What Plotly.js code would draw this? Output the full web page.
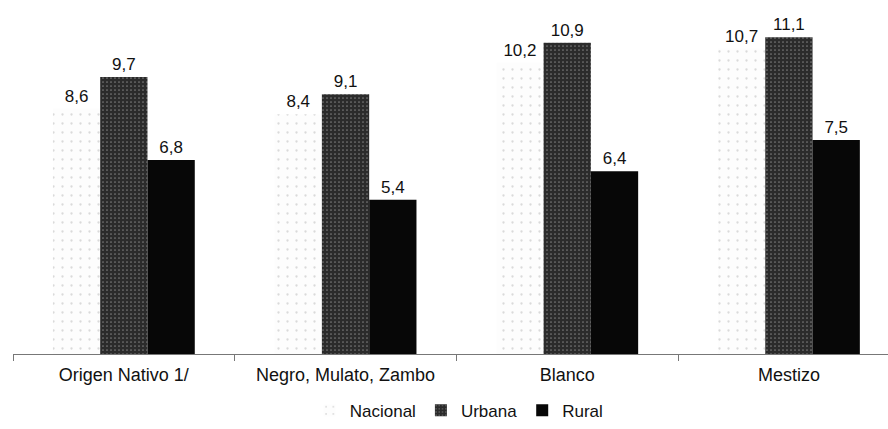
<!DOCTYPE html>
<html><head><meta charset="utf-8">
<script src="https://cdn.plot.ly/plotly-3.0.1.min.js"></script>
<style>html,body{margin:0;padding:0;background:#fff}#chart{width:888px;height:429px}</style>
</head><body><div id="chart"></div>
<script>
const categories = ["Origen Nativo 1/", "Negro, Mulato, Zambo", "Blanco", "Mestizo"];
const seriesNames = ["Nacional", "Urbana", "Rural"];
const nacional = [8.6, 8.4, 10.2, 10.7];
const urbana = [9.7, 9.1, 10.9, 11.1];
const rural = [6.8, 5.4, 6.4, 7.5];

const FAM = "Liberation Sans, Arial, sans-serif";
const labelFont = {family: FAM, size: 17, color: "#111"};
function trace(name, y, color, pattern) {
  return {
    type: "bar", name: name, x: categories, y: y,
    marker: {color: color, line: {width: 0}, pattern: pattern},
    texttemplate: "%{y:.1f}", textposition: "outside",
    textfont: labelFont, cliponaxis: false, hoverinfo: "skip"
  };
}
const data = [
  trace(seriesNames[0], nacional, "#fdfdfd", {shape: ".", fgcolor: "#dadada", bgcolor: "#fdfdfd", size: 9, solidity: 0.05}),
  trace(seriesNames[1], urbana, "#2b2b2b", {shape: ".", fgcolor: "#7a7a7a", bgcolor: "#2b2b2b", size: 4, solidity: 0.15}),
  trace(seriesNames[2], rural, "#070707")
];
const layout = {
  width: 888, height: 429,
  margin: {l: 13, r: 0, t: 20, b: 71},
  paper_bgcolor: "#fff", plot_bgcolor: "#fff",
  separators: ", ",
  barmode: "group", bargap: 0.36, bargroupgap: 0,
  font: {family: FAM, size: 16, color: "#111"},
  showlegend: true,
  legend: {orientation: "h", x: 0.51, xanchor: "center", y: -0.17, yanchor: "middle",
           font: {family: FAM, size: 17, color: "#111"},
           itemwidth: 30, tracegroupgap: 0},
  xaxis: {type: "category", range: [-0.5, 3.447], showline: true, linecolor: "#777", linewidth: 1,
          ticks: "outside", tickson: "boundaries", ticklen: 6, tickcolor: "#777",
          ticklabelstandoff: 4,
          tickfont: {family: FAM, size: 18, color: "#111"},
          showgrid: false, zeroline: false, fixedrange: true},
  yaxis: {range: [0, 11.7], visible: false, showgrid: false, zeroline: false, fixedrange: true}
};
Plotly.newPlot("chart", data, layout, {staticPlot: true, displayModeBar: false});
</script></body></html>
